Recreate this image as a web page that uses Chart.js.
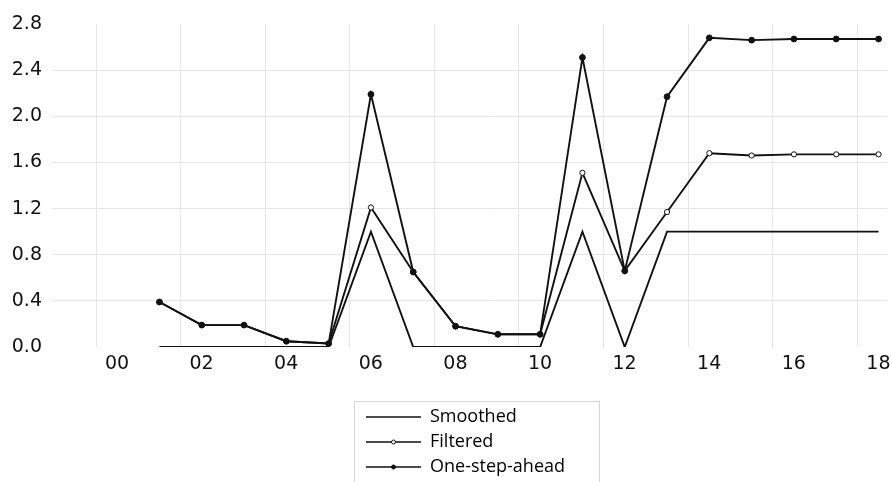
<!DOCTYPE html>
<html lang="en">
<head>
    <meta charset="UTF-8">
    <title>Smoothed / Filtered / One-step-ahead</title>
    <script src="https://cdn.jsdelivr.net/npm/chart.js"></script>
    <style>
        html, body { margin: 0; padding: 0; background: #fff; overflow: hidden; }
        #box { width: 892px; height: 482px; }
    </style>
</head>
<body>
    <div id="box">
        <canvas id="grafico"></canvas>
    </div>

    <script>
        // categories and values
        const categorias = ['00','01','02','03','04','05','06','07','08','09','10','11','12','13','14','15','16','17','18']
        const smoothed = [null, 0, 0, 0, 0, 0, 1.0, 0, 0, 0, 0, 1.0, 0, 1.0, 1.0, 1.0, 1.0, 1.0, 1.0]
        const filtered = [null, 0.39, 0.19, 0.19, 0.05, 0.03, 1.21, 0.65, 0.18, 0.11, 0.11, 1.51, 0.66, 1.17, 1.68, 1.66, 1.67, 1.67, 1.67]
        const oneStep  = [null, 0.39, 0.19, 0.19, 0.05, 0.03, 2.19, 0.65, 0.18, 0.11, 0.11, 2.51, 0.66, 2.17, 2.68, 2.66, 2.67, 2.67, 2.67]

        // tick labels
        const xTickLabels = ['00','02','04','06','08','10','12','14','16','18']
        const yTicks = [0, 0.4, 0.8, 1.2, 1.6, 2.0, 2.4, 2.8]

        const cinzaGrade = '#e6e6e6'
        const fonteEixo = { family: '"DejaVu Sans", Verdana, sans-serif', size: 19 }

        // legend in a box under the plot, one entry per row
        const legendaCaixa = {
            id: 'legendaCaixa',
            afterDraw(chart) {
                const c = chart.ctx
                c.save()
                c.strokeStyle = '#d6d6d6'
                c.lineWidth = 1
                c.strokeRect(354.5, 401.5, 245, 120)
                c.font = '18px "Open Sans", sans-serif'
                c.textBaseline = 'middle'
                chart.data.datasets.forEach((ds, i) => {
                    const y = 417 + i * 25
                    c.strokeStyle = ds.borderColor
                    c.lineWidth = 1.5
                    c.beginPath()
                    c.moveTo(366, y)
                    c.lineTo(421, y)
                    c.stroke()
                    if (ds.pointRadius > 0) {
                        c.beginPath()
                        c.arc(393.5, y, 2, 0, Math.PI * 2)
                        c.fillStyle = ds.pointBackgroundColor
                        c.fill()
                        c.lineWidth = 1
                        c.stroke()
                    }
                    c.fillStyle = '#000'
                    c.fillText(ds.label, 430, y)
                })
                c.restore()
            }
        }

        const ctx = document.getElementById('grafico')

        let grafico = new Chart(ctx, {
            type: 'line',
            data: {
                labels: categorias,
                datasets: [{
                    label: 'Smoothed',
                    data: smoothed,
                    borderColor: '#111',
                    borderWidth: 1.9,
                    pointRadius: 0,
                    pointHoverRadius: 0,
                    order: 2
                }, {
                    label: 'Filtered',
                    data: filtered,
                    borderColor: '#111',
                    borderWidth: 1.9,
                    pointRadius: 2.6,
                    pointBorderWidth: 1,
                    pointBackgroundColor: '#fff',
                    pointBorderColor: '#111',
                    order: 1
                }, {
                    label: 'One-step-ahead',
                    data: oneStep,
                    borderColor: '#111',
                    borderWidth: 1.9,
                    pointRadius: 2.9,
                    pointBorderWidth: 1,
                    pointBackgroundColor: '#111',
                    pointBorderColor: '#111',
                    order: 0
                }]
            },
            options: {
                responsive: true,
                maintainAspectRatio: false,
                animation: false,
                layout: { padding: { top: 24, right: 0, bottom: 105, left: 0 } },
                plugins: {
                    legend: { display: false },
                    tooltip: { enabled: false }
                },
                scales: {
                    x: {
                        type: 'linear',
                        min: -0.5,
                        max: 18.2,
                        afterBuildTicks: axis => {
                            axis.ticks = xTickLabels.map(l => ({ value: Number(l) - 0.5 }))
                        },
                        afterFit: axis => { axis.height = 30 },
                        grid: { color: cinzaGrade, drawTicks: false },
                        border: { display: false },
                        ticks: {
                            autoSkip: false,
                            maxRotation: 0,
                            padding: 6,
                            labelOffset: 21,
                            color: '#111',
                            font: fonteEixo,
                            callback: (v, i) => xTickLabels[i]
                        }
                    },
                    y: {
                        min: 0,
                        max: 2.8,
                        afterBuildTicks: axis => {
                            axis.ticks = yTicks.map(v => ({ value: v }))
                        },
                        afterFit: axis => { axis.width = 96 },
                        grid: {
                            color: c => (c.tick.value === 0 || c.tick.value === 2.8) ? 'rgba(0,0,0,0)' : cinzaGrade,
                            tickColor: c => (c.tick.value === 0 || c.tick.value === 2.8) ? 'rgba(0,0,0,0)' : cinzaGrade,
                            drawTicks: true,
                            tickLength: 44
                        },
                        border: { display: false },
                        ticks: {
                            padding: 10,
                            color: '#111',
                            font: fonteEixo,
                            callback: v => Number(v).toFixed(1)
                        }
                    }
                }
            },
            plugins: [legendaCaixa]
        })
    </script>
</body>
</html>
